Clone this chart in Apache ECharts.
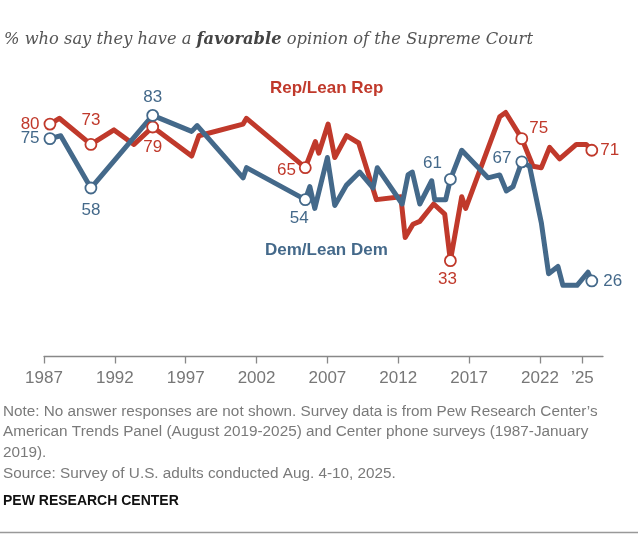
<!DOCTYPE html>
<html>
<head>
<meta charset="utf-8">
<script src="https://cdn.jsdelivr.net/npm/echarts@6/dist/echarts.min.js"></script>
<style>
  html, body { margin: 0; padding: 0; background: #fff; }
  #main { width: 640px; height: 542px; }
</style>
</head>
<body>
<div id="main"></div>
<script>
// 共和党 / 倾向共和党
var repYears = [1987.42, 1988.08, 1990.31, 1991.94, 1993.35, 1994.67, 1997.42, 1997.93, 2001.05, 2001.29,
    2005.44, 2006.15, 2006.39, 2007.05, 2007.52, 2008.35, 2009.21, 2010.46, 2012.18, 2012.49,
    2013.04, 2013.52, 2014.5, 2015.28, 2015.68, 2016.48, 2016.76, 2019.16, 2019.58, 2020.72,
    2021.51, 2022.1, 2022.68, 2023.39, 2024.57, 2025.27, 2025.66];
var repValues = [80, 82, 73, 78, 73, 79, 69, 76, 80, 82,
    65, 74, 70, 80, 68.5, 76, 73.5, 54, 55, 41,
    45.5, 46.5, 52.5, 49, 33, 55, 51, 82.5, 84, 75,
    65.5, 65, 72, 68, 73, 73, 71];

// 民主党 / 倾向民主党
var demYears = [1987.42, 1988.18, 1990.31, 1994.67, 1997.42, 1997.81, 2001.05, 2001.29, 2005.44, 2005.76,
    2006.11, 2007.0, 2007.52, 2008.35, 2009.28, 2010.22, 2010.52, 2012.28, 2012.69, 2012.99,
    2013.52, 2014.36, 2014.57, 2015.35, 2015.68, 2016.48, 2018.33, 2019.16, 2019.63, 2020.1,
    2020.72, 2021.27, 2022.1, 2022.61, 2023.27, 2023.62, 2024.62, 2025.39, 2025.66];
var demValues = [75, 76, 58, 83, 77.5, 79.5, 61.5, 65, 54, 58.5,
    51, 68.5, 52, 59, 63.5, 58, 65, 52.5, 62.5, 63.5,
    52.5, 60.5, 54, 54, 61, 71, 61.5, 62.5, 57, 58.5,
    67, 65.5, 46, 28.5, 31, 24.5, 24.5, 29, 26];

var tickYears = [1987, 1992, 1997, 2002, 2007, 2012, 2017, 2022, 2025];

var repColor = '#c0392b';
var demColor = '#44698a';

// 带圆点和数字的点: 序号 -> 标签位置
var repMarked = {
    0: { position: 'left', distance: 4 },
    2: { position: 'top', distance: 9 },
    5: { position: 'bottom', distance: 5 },
    10: { position: 'left', distance: 3, offset: [0, 3] },
    24: { position: 'bottom', distance: 4, offset: [-3, 0] },
    29: { position: 'right', distance: 1, offset: [0, -10] },
    36: { position: 'right', distance: 2 }
};
var demMarked = {
    0: { position: 'left', distance: 4 },
    2: { position: 'bottom', distance: 7 },
    3: { position: 'top', distance: 3 },
    8: { position: 'bottom', distance: 4, offset: [-6, 0] },
    24: { position: 'top', distance: 1, offset: [-18, 0] },
    30: { position: 'left', distance: 4, offset: [0, -4] },
    38: { position: 'right', distance: 5 }
};

function buildData(years, values, marked, color) {
    var arr = [];
    for (var i = 0; i < years.length; i++) {
        var item = { value: [years[i], values[i]] };
        if (marked[i]) {
            var m = marked[i];
            item.symbol = 'circle';
            item.label = {
                show: true,
                position: m.position,
                distance: m.distance,
                offset: m.offset || [0, 0],
                color: color,
                fontSize: 17,
                fontFamily: 'Liberation Sans, Arial, sans-serif'
            };
        } else {
            item.symbol = 'none';
        }
        arr.push(item);
    }
    return arr;
}

function makeSeries(name, years, values, marked, color) {
    return {
        name: name,
        type: 'line',
        data: buildData(years, values, marked, color),
        symbolSize: 11,
        lineStyle: { color: color, width: 5, join: 'round', cap: 'round' },
        itemStyle: { color: '#fff', borderColor: color, borderWidth: 1.8 },
        label: {
            formatter: function (p) { return Math.round(p.value[1]); }
        },
        emphasis: { disabled: true },
        silent: true
    };
}

var chart = echarts.init(document.getElementById('main'));

var option = {
    backgroundColor: '#fff',
    animation: false,
    grid: { left: 44, right: 37, top: 66, bottom: 185.5 },
    xAxis: {
        type: 'value',
        min: 1987,
        max: 2026.45,
        splitLine: { show: false },
        axisLine: { show: true, lineStyle: { color: '#888', width: 1.3 } },
        axisTick: { show: true, customValues: tickYears, length: 7, lineStyle: { color: '#888', width: 1.3 } },
        axisLabel: {
            customValues: tickYears,
            margin: 13,
            fontSize: 17,
            color: '#777',
            fontFamily: 'Liberation Sans, Arial, sans-serif',
            formatter: function (v) {
                return v === 2025 ? '\u201925' : String(v);
            }
        }
    },
    yAxis: {
        type: 'value',
        min: 0,
        max: 100,
        show: false
    },
    series: [
        makeSeries('Rep/Lean Rep', repYears, repValues, repMarked, repColor),
        makeSeries('Dem/Lean Dem', demYears, demValues, demMarked, demColor)
    ],
    graphic: [
        {
            type: 'text',
            left: 4,
            top: 32,
            style: {
                text: '{a|% who say they have a }{b|favorable}{a| opinion of the Supreme Court}',
                rich: {
                    a: { fontFamily: 'DejaVu Serif, serif', fontStyle: 'italic', fontSize: 16.3, fill: '#555' },
                    b: { fontFamily: 'DejaVu Serif, serif', fontStyle: 'italic', fontWeight: 'bold', fontSize: 16.3, fill: '#444' }
                }
            }
        },
        {
            type: 'text',
            left: 270,
            top: 80,
            style: { text: 'Rep/Lean Rep', fill: repColor, font: 'bold 17px Liberation Sans, Arial, sans-serif' }
        },
        {
            type: 'text',
            left: 265,
            top: 242,
            style: { text: 'Dem/Lean Dem', fill: demColor, font: 'bold 17px Liberation Sans, Arial, sans-serif' }
        },
        {
            type: 'text',
            left: 3,
            top: 401,
            style: {
                text: 'Note: No answer responses are not shown. Survey data is from Pew Research Center\u2019s\n' +
                    'American Trends Panel (August 2019-2025) and Center phone surveys (1987-January\n' +
                    '2019).\n' +
                    'Source: Survey of U.S. adults conducted Aug. 4-10, 2025.',
                fill: '#7a7a7a',
                font: '15.3px Liberation Sans, Arial, sans-serif',
                lineHeight: 20.7
            }
        },
        {
            type: 'text',
            left: 3,
            top: 494,
            style: { text: 'PEW RESEARCH CENTER', fill: '#111', font: 'bold 14px Liberation Sans, Arial, sans-serif' }
        },
        {
            type: 'line',
            shape: { x1: 0, y1: 532.5, x2: 638, y2: 532.5 },
            style: { stroke: '#999', lineWidth: 1.5 }
        }
    ]
};

chart.setOption(option);
</script>
</body>
</html>
